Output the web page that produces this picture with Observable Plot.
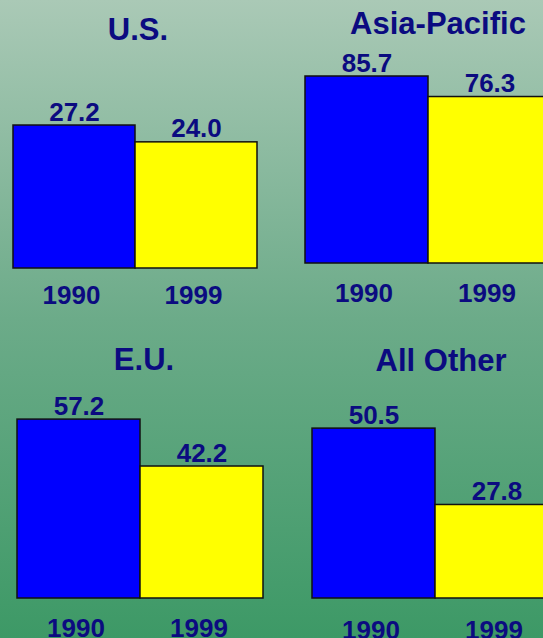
<!DOCTYPE html>
<html>
<head>
<meta charset="utf-8">
<script src="https://cdn.jsdelivr.net/npm/d3@7"></script>
<script src="https://cdn.jsdelivr.net/npm/@observablehq/plot@0.6"></script>
<style>
  html, body { margin: 0; padding: 0; }
  #chart {
    position: relative; width: 543px; height: 638px; overflow: hidden;
    background: linear-gradient(to bottom, #aac9b6 0%, #6cab89 50%, #3d9966 100%);
    font-family: Arial, "Liberation Sans", sans-serif;
  }
  .panel { position: absolute; }
  .panel svg { overflow: visible; background: transparent; max-width: none !important; }
  .title { position: absolute; transform: translateX(-50%); white-space: nowrap;
    color: #0b0b80; font-weight: bold; font-size: 31px; line-height: 1; }
</style>
</head>
<body>
<div id="chart"></div>
<script>
// ---- data ----
const regions = ["U.S.", "Asia-Pacific", "E.U.", "All Other"];
const years = ["1990", "1999"];
const values1990 = [27.2, 85.7, 57.2, 50.5];
const values1999 = [24.0, 76.3, 42.2, 27.8];
const yearColors = ["#0000ff", "#ffff00"];

// ---- layout (per panel: svg box, margins, y-domain top, tick padding, title position) ----
const layouts = [
  {left: 0,   top: 0,   width: 271, height: 320, ml: 12, mr: 14, mt: 60, mb: 52, ymax: 39.57, pad: 17, tx: 138, ty: 18},
  {left: 280, top: 0,   width: 280, height: 320, ml: 25, mr: 9,  mt: 40, mb: 57, ymax: 102.2, pad: 20, tx: 438, ty: 12},
  {left: 0,   top: 320, width: 271, height: 318, ml: 17, mr: 8,  mt: 60, mb: 40, ymax: 69.7,  pad: 20, tx: 144, ty: 348},
  {left: 280, top: 320, width: 280, height: 318, ml: 32, mr: 2,  mt: 60, mb: 40, ymax: 64.8,  pad: 22, tx: 441, ty: 349}
];

const chart = document.getElementById("chart");
const navy = "#0b0b80";

regions.forEach((region, i) => {
  const L = layouts[i];
  const data = years.map((yr, j) => ({year: yr, value: j === 0 ? values1990[i] : values1999[i]}));
  const plot = Plot.plot({
    width: L.width,
    height: L.height,
    marginLeft: L.ml, marginRight: L.mr, marginTop: L.mt, marginBottom: L.mb,
    style: {background: "transparent", fontFamily: "Arial, 'Liberation Sans', sans-serif", overflow: "visible", maxWidth: "none"},
    x: {domain: years, padding: 0, label: null},
    y: {domain: [0, L.ymax], axis: null},
    color: {domain: years, range: yearColors},
    marks: [
      Plot.barY(data, {x: "year", y: "value", fill: "year", stroke: "#111", strokeWidth: 1.5}),
      Plot.text(data, {x: "year", y: "value", text: d => d.value.toFixed(1), lineAnchor: "bottom", dy: -5,
        fill: navy, fontSize: 26, fontWeight: "bold"}),
      Plot.axisX({tickSize: 0, tickPadding: L.pad, fontSize: 26, fontWeight: "bold", fill: navy, label: null, dx: -3})
    ]
  });
  const wrap = document.createElement("div");
  wrap.className = "panel";
  wrap.style.left = L.left + "px";
  wrap.style.top = L.top + "px";
  wrap.style.width = L.width + "px";
  wrap.style.height = L.height + "px";
  wrap.appendChild(plot);
  chart.appendChild(wrap);

  const t = document.createElement("div");
  t.className = "title";
  t.textContent = region;
  t.style.left = L.tx + "px";
  t.style.top = (L.ty - 4) + "px";
  chart.appendChild(t);
});
</script>
</body>
</html>
